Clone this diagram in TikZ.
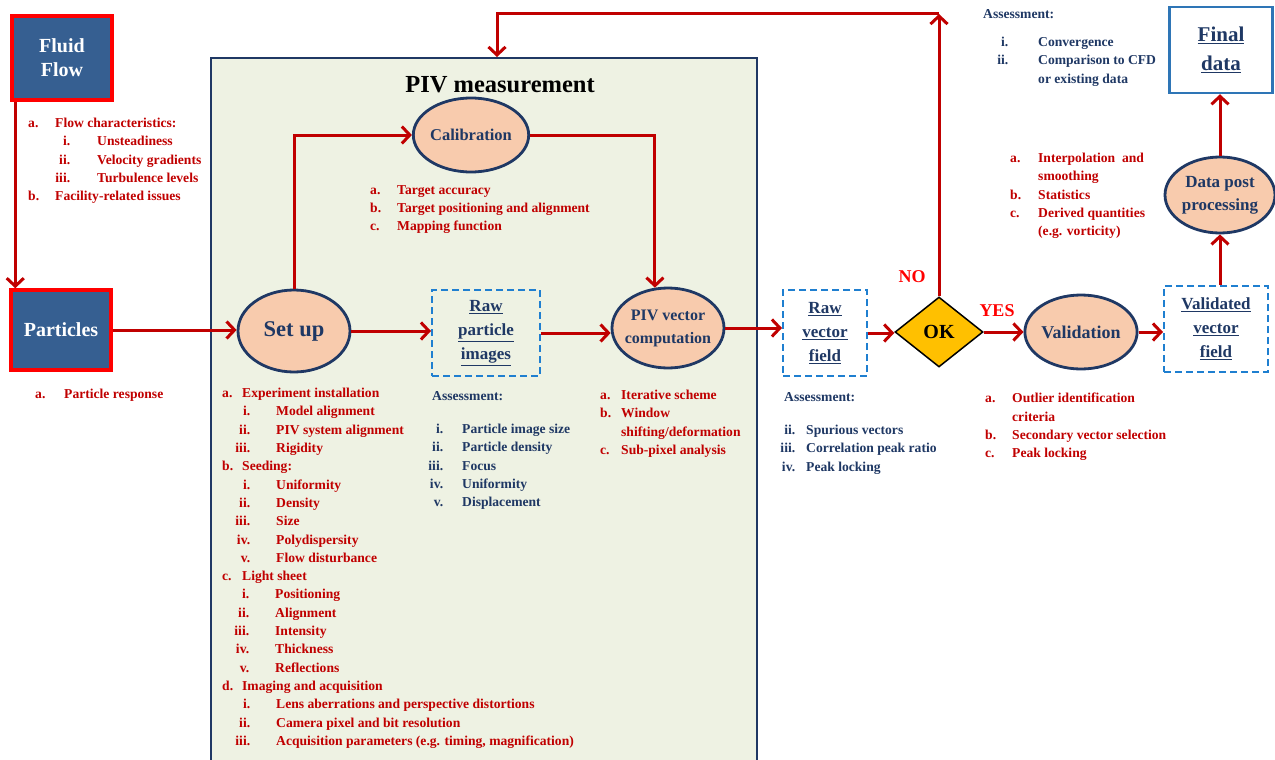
\documentclass[tikz,border=0pt]{standalone}
\usepackage{fontspec}
\setmainfont{Liberation Serif}
\usepackage{tikz}
\usetikzlibrary{arrows,arrows.meta,positioning,calc,shapes.geometric}
\definecolor{flowred}{HTML}{C00000}
\definecolor{navy}{HTML}{1F3864}
\definecolor{boxblue}{HTML}{365F91}
\definecolor{peach}{HTML}{F8CBAD}
\definecolor{pivbg}{HTML}{EEF2E3}
\definecolor{dashblue}{HTML}{1F7FD0}
\definecolor{okgold}{HTML}{FFC000}
\definecolor{finalblue}{HTML}{2E75B6}
\tikzstyle{srcbox}=[draw=red,line width=3.5pt,fill=boxblue,text=white,font=\bfseries\fontsize{20}{24}\selectfont,align=center,minimum width=100pt,minimum height=84pt]
\tikzstyle{stage}=[ellipse,draw=navy,line width=2.8pt,fill=peach,text=navy,font=\bfseries\fontsize{16.5}{22}\selectfont,align=center,inner sep=0pt]
\tikzstyle{dataset}=[draw=dashblue,line width=2pt,dash pattern=on 7pt off 4pt,text=navy,font=\bfseries\fontsize{17}{24}\selectfont,align=center,minimum height=86pt]
\tikzstyle{flow}=[draw=flowred,line width=3pt,-{Straight Barb[length=8pt,width=17pt]}]
\tikzstyle{redlist}=[text=flowred,font=\bfseries\fontsize{13.6}{18.3}\selectfont,align=left,inner sep=0pt,anchor=north west]
\tikzstyle{bluelist}=[redlist,text=navy]
\newcommand{\mitem}[3]{\makebox[#1][l]{#2}#3}
\newcommand{\sitem}[4]{\makebox[#1][r]{#2}\hspace{#3}#4}
\begin{document}
\begin{tikzpicture}[x=1pt,y=-1pt]
\useasboundingbox (0,0) rectangle (1275,760);
% PIV measurement frame
\node[draw=navy,line width=2pt,fill=pivbg,minimum width=546pt,minimum height=712pt,anchor=north west,inner sep=0pt] (pivbox) at (210,57) {};
\node[font=\bfseries\fontsize{24.5}{27}\selectfont] (title) at (500,85) {PIV measurement};

% sources
\node[srcbox] (fluid) at (62,58) {Fluid\\Flow};
\node[srcbox,minimum height=80pt,font=\bfseries\fontsize{20}{22}\selectfont] (particles) at (61,330) {Particles};

% stages
\node[stage,minimum width=110pt,minimum height=74pt] (calib) at (471,135) {Calibration};
\node[stage,minimum width=112pt,minimum height=82pt,font=\bfseries\fontsize{22.5}{24}\selectfont] (setup) at (294,331) {Set up};
\node[stage,minimum width=112pt,minimum height=80pt,inner xsep=-4pt,font=\bfseries\fontsize{16}{23}\selectfont] (pivvec) at (668,328) {PIV vector\\computation};
\node[stage,minimum width=111pt,minimum height=74pt,font=\bfseries\fontsize{18}{22}\selectfont] (valid) at (1081,332) {Validation};
\node[stage,minimum width=110pt,minimum height=76pt,inner xsep=-4pt,font=\bfseries\fontsize{17}{23}\selectfont] (post) at (1220,195) {Data post\\processing};

% data sets
\node[dataset,minimum width=108pt] (rawimg) at (486,333) {\underline{Raw}\\\underline{particle}\\\underline{images}};
\node[dataset,minimum width=84pt] (rawvec) at (825,333) {\underline{Raw}\\\underline{vector}\\\underline{field}};
\node[dataset,minimum width=104pt] (validvec) at (1216,329) {\underline{Validated}\\\underline{vector}\\\underline{field}};
\node[draw=finalblue,line width=2.5pt,fill=white,minimum width=103pt,minimum height=86pt,text=navy,font=\bfseries\fontsize{21}{29}\selectfont,align=center] (final) at (1221,50) {\underline{Final}\\\underline{data}};
\node[diamond,draw=black,line width=1.5pt,fill=okgold,minimum width=88pt,minimum height=70pt,inner sep=0pt,font=\bfseries\fontsize{20}{22}\selectfont] (ok) at (939,332) {OK};

% connectors
\draw[flow] ([xshift=5pt]fluid.south west) -- ([xshift=5pt]fluid.south west |- particles.north);
\draw[flow] (particles.east) -- (particles.east -| setup.west);
\draw[flow] (setup.east) -- (setup.east -| rawimg.west);
\draw[flow] (rawimg.east) -- (rawimg.east -| pivvec.west);
\draw[flow] (pivvec.east) -- (pivvec.east -| rawvec.west);
\draw[flow] (rawvec.east) -- (rawvec.east -| ok.west);
\draw[flow] (ok.east) -- (ok.east -| valid.west);
\draw[flow] (valid.east) -- (valid.east -| validvec.west);
\draw[flow] (validvec.north -| post.south) -- (post.south);
\draw[flow] (post.north) -- (final.south -| post.north);
\draw[flow] (setup.north) -- (setup.north |- calib.west) -- (calib.west);
\draw[flow] (calib.east) -| (pivvec.108);
\coordinate (loopne) at (939,14);
\coordinate (loopnw) at (497,14);
\draw[flow] (ok.north) -- (loopne);
\draw[flow] (loopne) -- (loopnw) -- (loopnw |- pivbox.north);
\node[text=red,font=\bfseries\fontsize{18}{20}\selectfont] (no) at (912,277) {NO};
\node[text=red,font=\bfseries\fontsize{18}{20}\selectfont] (yes) at (997,311) {YES};

% lists
\node[redlist] (fluidlist) at (28,118) {\mitem{27pt}{a.}{Flow characteristics:}\\
\sitem{42pt}{i.}{27pt}{Unsteadiness}\\
\sitem{42pt}{ii.}{27pt}{Velocity gradients}\\
\sitem{42pt}{iii.}{27pt}{Turbulence levels}\\
\mitem{27pt}{b.}{Facility-related issues}};
\node[redlist] (partlist) at (35,389) {\mitem{29pt}{a.}{Particle response}};
\node[redlist] (caliblist) at (370,185) {\mitem{27pt}{a.}{Target accuracy}\\
\mitem{27pt}{b.}{Target positioning and alignment}\\
\mitem{27pt}{c.}{Mapping function}};
\node[redlist] (setuplist) at (222,388) {\mitem{20pt}{a.}{Experiment installation}\\
\sitem{28pt}{i.}{26pt}{Model alignment}\\
\sitem{28pt}{ii.}{26pt}{PIV system alignment}\\
\sitem{28pt}{iii.}{26pt}{Rigidity}\\
\mitem{20pt}{b.}{Seeding:}\\
\sitem{28pt}{i.}{26pt}{Uniformity}\\
\sitem{28pt}{ii.}{26pt}{Density}\\
\sitem{28pt}{iii.}{26pt}{Size}\\
\sitem{28pt}{iv.}{26pt}{Polydispersity}\\
\sitem{28pt}{v.}{26pt}{Flow disturbance}\\
\mitem{20pt}{c.}{Light sheet}\\
\sitem{27pt}{i.}{26pt}{Positioning}\\
\sitem{27pt}{ii.}{26pt}{Alignment}\\
\sitem{27pt}{iii.}{26pt}{Intensity}\\
\sitem{27pt}{iv.}{26pt}{Thickness}\\
\sitem{27pt}{v.}{26pt}{Reflections}\\
\mitem{20pt}{d.}{Imaging and acquisition}\\
\sitem{28pt}{i.}{26pt}{Lens aberrations and perspective distortions}\\
\sitem{28pt}{ii.}{26pt}{Camera pixel and bit resolution}\\
\sitem{28pt}{iii.}{26pt}{Acquisition parameters (e.g. timing, magnification)}};
\node[bluelist] (imglist) at (432,391) {Assessment:\\[15pt]
\sitem{11pt}{i.}{19pt}{Particle image size}\\
\sitem{11pt}{ii.}{19pt}{Particle density}\\
\sitem{11pt}{iii.}{19pt}{Focus}\\
\sitem{11pt}{iv.}{19pt}{Uniformity}\\
\sitem{11pt}{v.}{19pt}{Displacement}};
\node[redlist] (pivlist) at (600,390) {\mitem{21pt}{a.}{Iterative scheme}\\
\mitem{21pt}{b.}{Window}\\
\hspace{21pt}shifting/deformation\\
\mitem{21pt}{c.}{Sub-pixel analysis}};
\node[bluelist] (veclist) at (780,392) {\hspace{4pt}Assessment:\\[15pt]
\sitem{15pt}{ii.}{11pt}{Spurious vectors}\\
\sitem{15pt}{iii.}{11pt}{Correlation peak ratio}\\
\sitem{15pt}{iv.}{11pt}{Peak locking}};
\node[redlist] (validlist) at (985,393) {\mitem{27pt}{a.}{Outlier identification}\\
\hspace{27pt}criteria\\
\mitem{27pt}{b.}{Secondary vector selection}\\
\mitem{27pt}{c.}{Peak locking}};
\node[redlist] (postlist) at (1010,153) {\mitem{28pt}{a.}{Interpolation\ \ and}\\
\hspace{28pt}smoothing\\
\mitem{28pt}{b.}{Statistics}\\
\mitem{28pt}{c.}{Derived quantities}\\
\hspace{28pt}(e.g. vorticity)};
\node[bluelist] (finallist) at (983,9) {Assessment:\\[10pt]
\sitem{25pt}{i.}{30pt}{Convergence}\\
\sitem{25pt}{ii.}{30pt}{Comparison to CFD}\\
\hspace{55pt}or existing data};
\end{tikzpicture}
\end{document}
